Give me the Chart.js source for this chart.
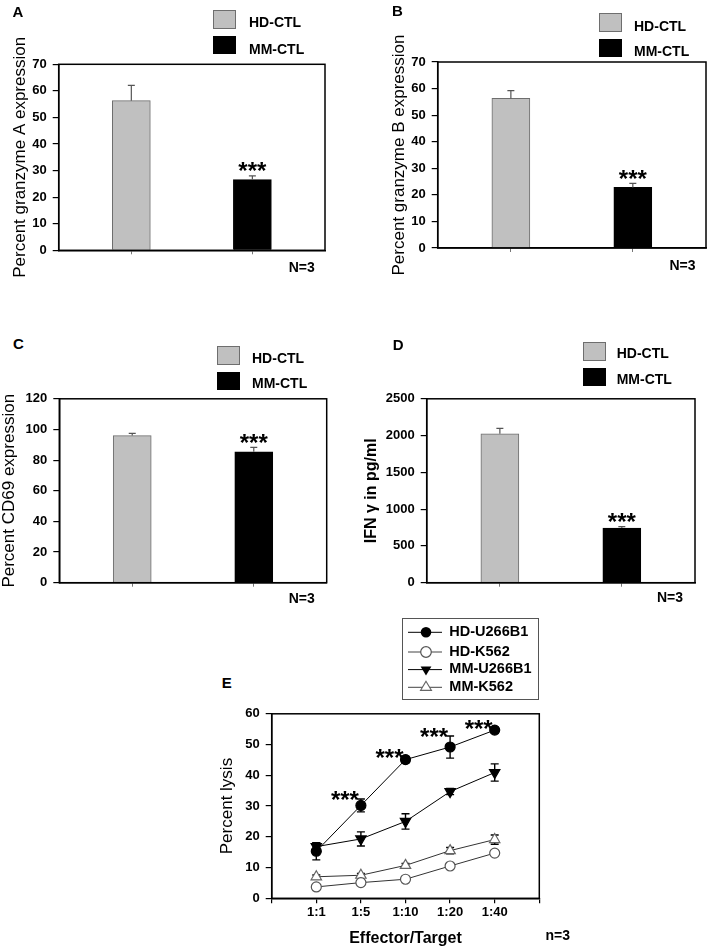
<!DOCTYPE html>
<html>
<head>
<meta charset="utf-8">
<script src="https://cdn.jsdelivr.net/npm/chart.js@4.4.1/dist/chart.umd.min.js"></script>
<style>
body { margin:0; background:#fff; width:710px; height:951px; position:relative; overflow:hidden; font-family:"Liberation Sans", Arial, sans-serif; }
canvas { position:absolute; }
.t { position:absolute; font-weight:bold; color:#000; white-space:nowrap; line-height:1; }
.sw { position:absolute; box-sizing:border-box; }
#legE { position:absolute; left:401.7px; top:617.7px; width:137px; height:82px; box-sizing:border-box; border:1px solid #555; }
#legE svg { position:absolute; left:0; top:0; }
</style>
</head>
<body>
<canvas id="cA"></canvas>
<canvas id="cB"></canvas>
<canvas id="cC"></canvas>
<canvas id="cD"></canvas>
<canvas id="cE"></canvas>
<div id="legE">
  <svg width="137" height="82">
    <line x1="5" y1="13.3" x2="39" y2="13.3" stroke="#000" stroke-width="1"/>
    <circle cx="23" cy="13.3" r="5.3" fill="#000"/>
    <line x1="5" y1="33" x2="39" y2="33" stroke="#444" stroke-width="1"/>
    <circle cx="23" cy="33" r="5.3" fill="#fff" stroke="#555" stroke-width="1.2"/>
    <line x1="5" y1="50.6" x2="39" y2="50.6" stroke="#000" stroke-width="1"/>
    <polygon points="23,56.6 17.6,47.6 28.4,47.6" fill="#000"/>
    <line x1="5" y1="68.3" x2="39" y2="68.3" stroke="#444" stroke-width="1"/>
    <polygon points="23,62.3 17.6,71.3 28.4,71.3" fill="#fff" stroke="#666" stroke-width="1.2"/>
  </svg>
</div>
<script>
// bar panels A-D
var groups = ['HD-CTL', 'MM-CTL'];
var barStars = ['', '***'];
var granzymeA = [56.3, 26.6];
var granzymeAErr = [5.8, 1.4];
var granzymeB = [56.3, 22.8];
var granzymeBErr = [2.9, 1.5];
var cd69 = [96.0, 85.4];
var cd69Err = [1.5, 2.9];
var ifng = [2025, 744];
var ifngErr = [72, 18];

// lysis panel E
var ratios = ['1:1', '1:5', '1:10', '1:20', '1:40'];
var lysisNames = ['HD-U266B1', 'HD-K562', 'MM-U266B1', 'MM-K562'];
var hdU266 = [15.3, 30.2, 45.1, 49.2, 54.7];
var hdU266Err = [2.8, 2.1, 1.0, 3.6, 0.9];
var hdK562 = [3.7, 5.1, 6.2, 10.5, 14.7];
var hdK562Err = [0.5, 0.5, 0.5, 0.5, 0.6];
var mmU266 = [16.8, 19.3, 25.0, 34.7, 40.9];
var mmU266Err = [1.3, 2.3, 2.5, 1.0, 2.8];
var mmK562 = [7.0, 7.5, 10.7, 15.5, 19.1];
var mmK562Err = [0.6, 0.6, 0.6, 1.0, 1.5];
var lysisStars = ['', '***', '***', '***', '***'];

var FONT = '"Liberation Sans", Arial, Helvetica, sans-serif';
Chart.defaults.font.family = FONT;
Chart.defaults.color = '#000';

function addText(txt, x, y, size, anchor) {
    var d = document.createElement('div');
    d.className = 't';
    d.textContent = txt;
    d.style.left = x + 'px';
    d.style.top = y + 'px';
    d.style.fontSize = size + 'px';
    d.style.transform = anchor == 'left' ? 'translate(0,-50%)' : 'translate(-50%,-50%)';
    document.body.appendChild(d);
}

function addSwatch(x, y, h, fill, edge) {
    var d = document.createElement('div');
    d.className = 'sw';
    d.style.left = x + 'px';
    d.style.top = y + 'px';
    d.style.width = '23px';
    d.style.height = h + 'px';
    d.style.background = fill;
    d.style.border = '1px solid ' + edge;
    document.body.appendChild(d);
}

function drawErrors(chart, o) {
    var ctx = chart.ctx, y = chart.scales.y;
    ctx.save();
    ctx.strokeStyle = o.color;
    ctx.lineWidth = o.width;
    chart.data.datasets.forEach(function (ds, i) {
        var meta = chart.getDatasetMeta(i);
        ds.errors.forEach(function (e, j) {
            var pt = meta.data[j], v = ds.data[j].y;
            var top = y.getPixelForValue(v + e);
            var bot = y.getPixelForValue(o.both ? v - e : v);
            ctx.beginPath();
            ctx.moveTo(pt.x, top); ctx.lineTo(pt.x, bot);
            ctx.moveTo(pt.x - o.cap / 2, top); ctx.lineTo(pt.x + o.cap / 2, top);
            if (o.both) { ctx.moveTo(pt.x - o.cap / 2, bot); ctx.lineTo(pt.x + o.cap / 2, bot); }
            ctx.stroke();
        });
    });
    ctx.restore();
}

var errorBars = {
    id: 'errorBars',
    beforeDatasetsDraw: function (chart, args, o) { if (o.both) drawErrors(chart, o); },
    afterDatasetsDraw: function (chart, args, o) { if (!o.both) drawErrors(chart, o); }
};

var starMarks = {
    id: 'starMarks',
    afterDatasetsDraw: function (chart, args, o) {
        var ctx = chart.ctx, x = chart.scales.x, y = chart.scales.y;
        ctx.save();
        ctx.font = 'bold 24px ' + FONT;
        ctx.textAlign = 'center';
        ctx.textBaseline = 'alphabetic';
        ctx.fillStyle = '#000';
        o.marks.forEach(function (m) {
            if (m.text) ctx.fillText(m.text, x.getPixelForValue(m.x) + m.dx, y.getPixelForValue(m.y) + m.dy);
        });
        ctx.restore();
    }
};

var frame = {
    id: 'frame',
    afterDraw: function (chart) {
        var ctx = chart.ctx, a = chart.chartArea;
        ctx.save();
        ctx.strokeStyle = '#000';
        ctx.lineWidth = 1.5;
        ctx.strokeRect(a.left, a.top, a.right - a.left, a.bottom - a.top);
        ctx.restore();
    }
};

// box = canvas rect on page, area = wanted plot rect on page
function layoutFor(id, box, area, titleX, lineH, xH) {
    var c = document.getElementById(id);
    c.width = box[2];
    c.height = box[3];
    c.style.left = box[0] + 'px';
    c.style.top = box[1] + 'px';
    return {
        padding: {
            left: titleX - lineH / 2 - box[0],
            top: area[1] - box[1],
            right: box[0] + box[2] - area[2],
            bottom: box[1] + box[3] - area[3] - xH
        },
        yW: area[0] - (titleX - lineH / 2)
    };
}

function barPanel(id, box, area, vals, errs, yMax, yStep, yTitle, titleFont, titleX) {
    var lay = layoutFor(id, box, area, titleX, titleFont.size * 1.2, 10);
    var fills = ['#c0c0c0', '#000000'];
    var edges = ['#6e6e6e', '#000000'];
    var marks = groups.map(function (g, i) {
        return { text: barStars[i], x: i, y: vals[i] + errs[i], dx: 0, dy: 3.3 };
    });
    new Chart(document.getElementById(id), {
        type: 'bar',
        data: {
            datasets: groups.map(function (g, i) {
                return {
                    label: g,
                    data: [{ x: i, y: vals[i] }],
                    errors: [errs[i]],
                    backgroundColor: fills[i],
                    borderColor: edges[i],
                    borderWidth: 1,
                    barThickness: 38,
                    grouped: false
                };
            })
        },
        options: {
            responsive: false,
            animation: false,
            layout: { padding: lay.padding },
            plugins: {
                legend: { display: false },
                tooltip: { enabled: false },
                errorBars: { both: false, cap: 7, color: '#555', width: 1.2 },
                starMarks: { marks: marks }
            },
            scales: {
                x: {
                    type: 'linear', min: -0.6, max: 1.6, offset: false,
                    afterBuildTicks: function (s) { s.ticks = [{ value: 0 }, { value: 1 }]; },
                    afterFit: function (s) { s.height = 10; },
                    ticks: { display: false },
                    grid: { drawOnChartArea: false, offset: false, tickLength: 4, color: '#777' },
                    border: { color: '#000', width: 1.5 }
                },
                y: {
                    min: 0, max: yMax,
                    afterFit: function (s) { s.width = lay.yW; },
                    ticks: {
                        stepSize: yStep, padding: 6, color: '#000', font: { size: 13, weight: 'bold' },
                        callback: function (v) { return String(v); }
                    },
                    grid: { drawOnChartArea: false, tickLength: 6, color: '#000', lineWidth: 1.2 },
                    border: { color: '#000', width: 1.5 },
                    title: { display: true, text: yTitle, color: '#000', padding: 0, font: titleFont }
                }
            }
        },
        plugins: [errorBars, starMarks, frame]
    });
}

barPanel('cA', [0, 0, 345, 285], [58.7, 64.3, 325, 250.3], granzymeA, granzymeAErr, 70, 10,
    'Percent granzyme A expression', { size: 17, weight: 'normal' }, 20);
barPanel('cB', [355, 0, 355, 285], [437.7, 62, 706, 248], granzymeB, granzymeBErr, 70, 10,
    'Percent granzyme B expression', { size: 17, weight: 'normal' }, 399.5);
barPanel('cC', [-5, 385, 350, 230], [59.3, 397.3, 326.7, 582.7], cd69, cd69Err, 120, 20,
    'Percent CD69 expression', { size: 17, weight: 'normal' }, 9);
barPanel('cD', [355, 385, 355, 230], [426.7, 396.7, 695, 582.7], ifng, ifngErr, 2500, 500,
    'IFN \u03b3 in pg/ml', { size: 16, weight: 'bold' }, 371.3);

// panel E
var layE = layoutFor('cE', [200, 700, 360, 251], [271.7, 711, 539.3, 898.3], 227, 17 * 1.2, 50.3);
function pts(vals) { return vals.map(function (v, i) { return { x: i + 1, y: v }; }); }
var lysisVals = [hdU266, hdK562, mmU266, mmK562];
var lysisErrs = [hdU266Err, hdK562Err, mmU266Err, mmK562Err];
var lysisStyle = [
    { pointStyle: 'circle', radius: 5, fill: '#000', edge: '#000', line: '#000', rot: 0 },
    { pointStyle: 'circle', radius: 5, fill: '#fff', edge: '#555', line: '#333', rot: 0 },
    { pointStyle: 'triangle', radius: 6, fill: '#000', edge: '#000', line: '#000', rot: 180 },
    { pointStyle: 'triangle', radius: 6, fill: '#fff', edge: '#666', line: '#333', rot: 0 }
];
var lysisMarks = lysisStars.map(function (s, j) {
    return { text: s, x: j + 1, y: hdU266[j] + hdU266Err[j], dx: -16, dy: 9.5 };
});

new Chart(document.getElementById('cE'), {
    type: 'scatter',
    data: {
        datasets: lysisNames.map(function (n, i) {
            var st = lysisStyle[i];
            return {
                label: n,
                data: pts(lysisVals[i]),
                errors: lysisErrs[i],
                showLine: true,
                borderColor: st.line,
                borderWidth: 1,
                pointStyle: st.pointStyle,
                pointRadius: st.radius,
                pointRotation: st.rot,
                pointBackgroundColor: st.fill,
                pointBorderColor: st.edge,
                pointBorderWidth: 1.2
            };
        })
    },
    options: {
        responsive: false,
        animation: false,
        layout: { padding: layE.padding },
        plugins: {
            legend: { display: false },
            tooltip: { enabled: false },
            errorBars: { both: true, cap: 8, color: '#000', width: 1.4 },
            starMarks: { marks: lysisMarks }
        },
        scales: {
            x: {
                type: 'linear', min: 0, max: 6,
                afterBuildTicks: function (s) {
                    s.ticks = [0, 1, 2, 3, 4, 5, 6].map(function (v) { return { value: v }; });
                },
                afterFit: function (s) { s.height = 50.3; },
                ticks: {
                    autoSkip: false, maxRotation: 0, padding: 1.5, color: '#000',
                    font: { size: 13, weight: 'bold' },
                    callback: function (v) { return ratios[v - 1] || ''; }
                },
                grid: { drawOnChartArea: false, tickLength: 5, color: '#000', lineWidth: 1.2 },
                border: { color: '#000', width: 1.5 },
                title: { display: true, text: 'Effector/Target', color: '#000', padding: 0, font: { size: 16, weight: 'bold' } }
            },
            y: {
                min: 0, max: 60,
                afterFit: function (s) { s.width = layE.yW; },
                ticks: { stepSize: 10, padding: 6, color: '#000', font: { size: 13, weight: 'bold' } },
                grid: { drawOnChartArea: false, tickLength: 6, color: '#000', lineWidth: 1.2 },
                border: { color: '#000', width: 1.5 },
                title: { display: true, text: 'Percent lysis', color: '#000', padding: 0, font: { size: 17, weight: 'normal' } }
            }
        }
    },
    plugins: [errorBars, starMarks, frame]
});

// legend E texts
var legRows = [631, 650.7, 668.3, 686];
lysisNames.forEach(function (n, i) { addText(n, 449.3, legRows[i], 14.5, 'left'); });

// legends A-D
var legBars = [
    [213, 10, 36, 249, 22, 48.7],
    [599, 13.3, 39.3, 634, 25.7, 51.3],
    [217.3, 345.7, 371.7, 252, 358.3, 382.8],
    [582.7, 341.7, 367.7, 616.7, 353.3, 378.7]
];
legBars.forEach(function (L) {
    addSwatch(L[0], L[1], 19, '#c0c0c0', '#6e6e6e');
    addSwatch(L[0], L[2], 18, '#000', '#000');
    addText(groups[0], L[3], L[4], 14, 'left');
    addText(groups[1], L[3], L[5], 14, 'left');
});

// panel letters and n
addText('A', 18, 10.5, 15);
addText('B', 397.5, 10, 15);
addText('C', 18.3, 343.3, 15);
addText('D', 398.2, 344, 15);
addText('E', 226.7, 682, 15);
addText('N=3', 301.7, 267, 14);
addText('N=3', 682.5, 265, 14);
addText('N=3', 301.7, 598.3, 14);
addText('N=3', 670, 596.7, 14);
addText('n=3', 557.7, 935, 14);
</script>
</body>
</html>
